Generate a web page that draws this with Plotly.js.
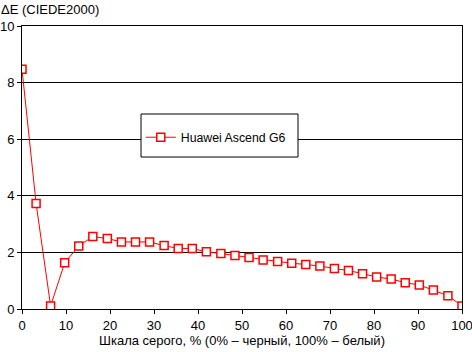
<!DOCTYPE html>
<html>
<head>
<meta charset="utf-8">
<script src="https://cdn.plot.ly/plotly-3.0.1.min.js"></script>
<style>html,body{margin:0;padding:0;background:#fff;}#chart{width:472px;height:352px;}</style>
</head>
<body>
<div id="chart"></div>
<script>
const seriesName = "Huawei Ascend G6";
const grayPercent = [0, 3.2, 6.5, 9.7, 12.9, 16.1, 19.4, 22.6, 25.8, 29.0, 32.3, 35.5, 38.7, 41.9, 45.2, 48.4,
  51.6, 54.8, 58.1, 61.3, 64.5, 67.7, 71.0, 74.2, 77.4, 80.6, 83.9, 87.1, 90.3, 93.5, 96.8, 100];
const deltaE = [8.47, 3.73, 0.11, 1.63, 2.23, 2.56, 2.49, 2.37, 2.37, 2.37, 2.24, 2.14, 2.14, 2.02, 1.96, 1.89,
  1.82, 1.73, 1.68, 1.62, 1.57, 1.52, 1.43, 1.36, 1.25, 1.13, 1.06, 0.93, 0.85, 0.67, 0.47, 0.11];
const xTicks = [0, 10, 20, 30, 40, 50, 60, 70, 80, 90, 100];
const yTicks = [0, 2, 4, 6, 8, 10];
const yTitle = "ΔE (CIEDE2000)";
const xTitle = "Шкала серого, % (0% – черный, 100% – белый)";

const FONT = "Liberation Sans, Arial, sans-serif";
const trace = {
  x: grayPercent, y: deltaE, type: "scatter", mode: "lines+markers", name: seriesName,
  line: {color: "#ff0000", width: 1},
  marker: {symbol: "square", size: 8, color: "#ffffff", line: {color: "#ff0000", width: 1.5}}
};
const layout = {
  width: 472, height: 352,
  margin: {l: 22, r: 10, t: 26, b: 43},
  paper_bgcolor: "#ffffff", plot_bgcolor: "#ffffff",
  font: {family: FONT, size: 13, color: "#000000"},
  showlegend: true,
  legend: {x: 0.27, xanchor: "left", y: 0.607, yanchor: "middle", bgcolor: "rgba(0,0,0,0)", borderwidth: 0,
    font: {family: FONT, size: 12.3, color: "#000"}},
  xaxis: {range: [0, 100], tickvals: xTicks, ticktext: xTicks.map(String), ticks: "outside", ticklen: 4,
    tickcolor: "#000", showline: true, linecolor: "#000", linewidth: 1, mirror: true, showgrid: false, zeroline: false,
    ticklabeloverflow: "allow",
    title: {text: xTitle, font: {family: FONT, size: 13}, standoff: 4}, tickfont: {family: FONT, size: 13}},
  yaxis: {range: [0, 10], tickvals: yTicks, ticktext: yTicks.map(String), ticks: "outside", ticklen: 4,
    tickcolor: "#000", showline: true, linecolor: "#000", linewidth: 1, mirror: true, showgrid: true, gridcolor: "#000",
    gridwidth: 1, zeroline: false, tickfont: {family: FONT, size: 13}},
  shapes: [{type: "rect", xref: "paper", yref: "paper", x0: 0.2705, x1: 0.6273, y0: 0.537, y1: 0.689,
    line: {color: "#000", width: 1}, fillcolor: "#ffffff", layer: "above"}],
  annotations: [{text: yTitle, xref: "paper", yref: "paper", x: 0, y: 1, xanchor: "left", yanchor: "middle",
    xshift: -23, yshift: 17, showarrow: false, font: {family: FONT, size: 13}}]
};
Plotly.newPlot("chart", [trace], layout, {displayModeBar: false, staticPlot: true});
</script>
</body>
</html>
